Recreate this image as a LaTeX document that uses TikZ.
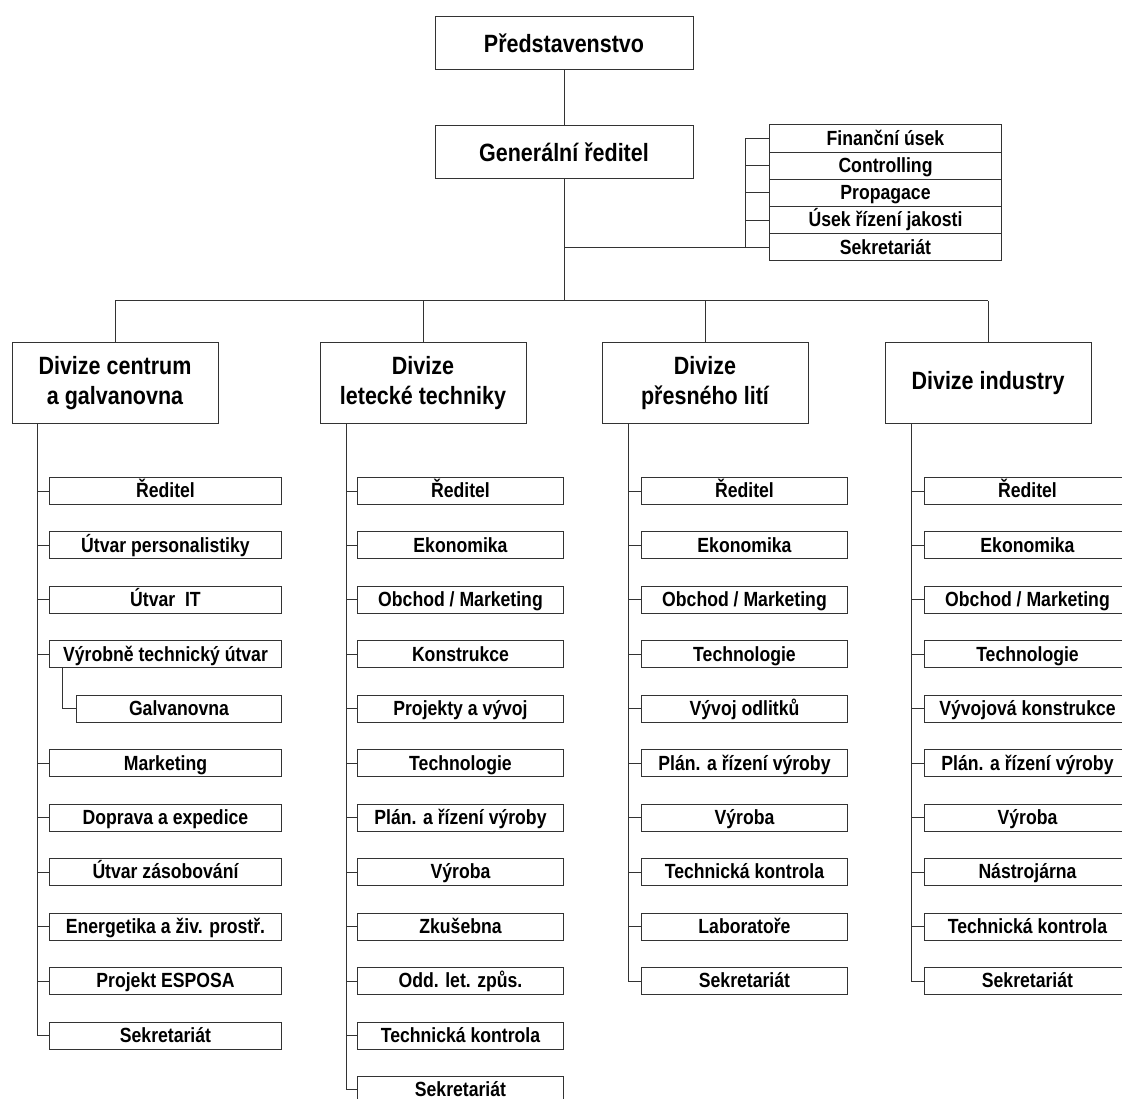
\documentclass[tikz,border=0pt]{standalone}
\usepackage{fontspec}
\setmainfont[FakeStretch=0.86]{Liberation Sans}
\begin{document}
\begin{tikzpicture}[x=1pt, y=-1pt,
    box/.style={draw=black!80, line width=1pt, fill=white, inner sep=0pt, align=center,
      font=\bfseries\fontsize{25}{30}\selectfont},
    head/.style={box, minimum width=258pt, minimum height=53pt},
    divbox/.style={box, minimum width=206pt, minimum height=80pt},
    unit/.style={box, anchor=west, minimum width=206pt, minimum height=27pt,
      text height=16pt, text depth=2.5pt, font=\bfseries\fontsize{20.5}{22}\selectfont},
    staff/.style={unit, minimum width=232pt, minimum height=27.2pt},
    wire/.style={draw=black!80, line width=1pt}]
  \useasboundingbox (0,0) rectangle (1122,1099);

  % top of the tree
  \node[head] (board) at (564,43.5) {Představenstvo};
  \node[head] (ceo) at (564,152.5) {Generální ředitel};
  \draw[wire] (board) -- (ceo);

  % staff units beside the CEO
  \foreach \t [count=\i] in {Finanční úsek, Controlling, Propagace, Úsek řízení jakosti, Sekretariát}
    \node[staff] (s\i) at (769,{138.6+27.2*(\i-1)}) {\t};
  \coordinate (sbus) at (745,0);
  \draw[wire] (sbus |- s1.west) -- (sbus |- s5.west);
  \foreach \i in {1,...,5}
    \draw[wire] (sbus |- s\i.west) -- (s\i.west);
  \draw[wire] (ceo.south |- s5.west) -- (s5.west);

  % divisions
  \coordinate (bus) at (564,301);
  \node[divbox] (d1) at (115,383) {Divize centrum\\a galvanovna};
  \node[divbox] (d2) at (423,383) {Divize\\letecké techniky};
  \node[divbox] (d3) at (705,383) {Divize\\přesného lití};
  \node[divbox] (d4) at (988,383) {Divize industry};
  \draw[wire] (ceo) -- (bus);
  \draw[wire] (d1.north |- bus) -- (d4.north |- bus);
  \foreach \i in {1,...,4}
    \draw[wire] (d\i.north |- bus) -- (d\i.north);

  % spines
  \coordinate (k1) at (37,423);
  \coordinate (k2) at (346,423);
  \coordinate (k3) at (628,423);
  \coordinate (k4) at (911,423);

  % Divize centrum a galvanovna
  \foreach \r/\t in {1/Ředitel, 2/Útvar personalistiky, 3/Útvar\ \ IT, 4/Výrobně technický útvar,
      6/Marketing, 7/Doprava a expedice, 8/Útvar zásobování, 9/Energetika a živ. prostř.,
      10/Projekt ESPOSA, 11/Sekretariát}
    \node[unit, minimum width=232pt] (c\r) at (49,{491+54.45*(\r-1)}) {\t};
  \node[unit, minimum width=205pt] (c5) at (76,{491+54.45*4}) {Galvanovna};
  \draw[wire] (k1) -- (k1 |- c11.west);
  \foreach \r in {1,2,3,4,6,7,8,9,10,11}
    \draw[wire] (k1 |- c\r.west) -- (c\r.west);
  \draw[wire] (62,0 |- c4.south) -- (62,0 |- c5.west) -- (c5.west);

  % Divize letecke techniky
  \foreach \t [count=\i] in {Ředitel, Ekonomika, Obchod / Marketing, Konstrukce, Projekty a vývoj,
      Technologie, Plán. a řízení výroby, Výroba, Zkušebna, Odd. let. způs.,
      Technická kontrola, Sekretariát}
    \node[unit] (l\i) at (357,{491+54.45*(\i-1)}) {\t};
  \draw[wire] (k2) -- (k2 |- l12.west);
  \foreach \i in {1,...,12}
    \draw[wire] (k2 |- l\i.west) -- (l\i.west);

  % Divize presneho liti
  \foreach \t [count=\i] in {Ředitel, Ekonomika, Obchod / Marketing, Technologie, Vývoj odlitků,
      Plán. a řízení výroby, Výroba, Technická kontrola, Laboratoře, Sekretariát}
    \node[unit] (p\i) at (641,{491+54.45*(\i-1)}) {\t};
  \draw[wire] (k3) -- (k3 |- p10.west);
  \foreach \i in {1,...,10}
    \draw[wire] (k3 |- p\i.west) -- (p\i.west);

  % Divize industry
  \foreach \t [count=\i] in {Ředitel, Ekonomika, Obchod / Marketing, Technologie, Vývojová konstrukce,
      Plán. a řízení výroby, Výroba, Nástrojárna, Technická kontrola, Sekretariát}
    \node[unit] (n\i) at (924,{491+54.45*(\i-1)}) {\t};
  \draw[wire] (k4) -- (k4 |- n10.west);
  \foreach \i in {1,...,10}
    \draw[wire] (k4 |- n\i.west) -- (n\i.west);
\end{tikzpicture}
\end{document}
